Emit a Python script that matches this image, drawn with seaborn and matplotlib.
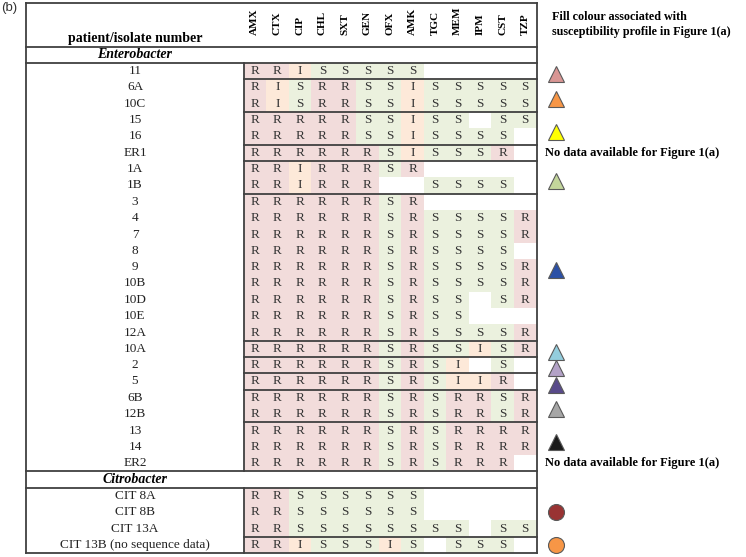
import numpy as np
import pandas as pd
import seaborn as sns
import matplotlib.pyplot as plt
from matplotlib.colors import ListedColormap

# antibiotics (columns)
drugs = ['AMX', 'CTX', 'CIP', 'CHL', 'SXT', 'GEN', 'OFX', 'AMK', 'TGC', 'MEM', 'IPM', 'CST', 'TZP']

# Enterobacter isolates and their profiles ('-' = not tested)
ent_isolates = ['11', '6A', '10C', '15', '16', 'ER1', '1A', '1B', '3', '4', '7', '8', '9',
                '10B', '10D', '10E', '12A', '10A', '2', '5', '6B', '12B', '13', '14', 'ER2']
ent_profiles = ['RRISSSSS-----', 'RISRRSSISSSSS', 'RISRRSSISSSSS', 'RRRRRSSISS-SS',
                'RRRRRSSISSSS-', 'RRRRRRSISSSR-', 'RRIRRRSR-----', 'RRIRRR--SSSS-',
                'RRRRRRSR-----', 'RRRRRRSRSSSSR', 'RRRRRRSRSSSSR', 'RRRRRRSRSSSS-',
                'RRRRRRSRSSSSR', 'RRRRRRSRSSSSR', 'RRRRRRSRSS-SR', 'RRRRRRSRSS---',
                'RRRRRRSRSSSSR', 'RRRRRRSRSSISR', 'RRRRRRSRSI-S-', 'RRRRRRSRSIIR-',
                'RRRRRRSRSRRSR', 'RRRRRRSRSRRSR', 'RRRRRRSRSRRRR', 'RRRRRRSRSRRRR',
                'RRRRRRSRSRRR-']

# Citrobacter isolates
cit_isolates = ['CIT 8A', 'CIT 8B', 'CIT 13A', 'CIT 13B (no sequence data)']
cit_profiles = ['RRSSSSSS-----', 'RRSSSSSS-----', 'RRSSSSSSSS-SS', 'RRISSSIS-SSS-']

# groups end after these isolates (separator lines)
breaks_after = ['11', '10C', '16', 'ER1', '1B', '12A', '10A', '2', '5', '12B', 'CIT 13A']

# legend symbols: isolates covered, marker, fill colour
legend_items = [
    (['11'], '^', '#d99694'),
    (['6A', '10C'], '^', '#f79646'),
    (['15', '16'], '^', '#ffff00'),
    (['1A', '1B'], '^', '#c3d69b'),
    (['3', '4', '7', '8', '9', '10B', '10D', '10E', '12A'], '^', '#2b50a6'),
    (['10A'], '^', '#93cddd'),
    (['2'], '^', '#b3a2c7'),
    (['5'], '^', '#584a8a'),
    (['6B', '12B'], '^', '#a6a6a6'),
    (['13', '14'], '^', '#1a1a1a'),
    (['CIT 8A', 'CIT 8B', 'CIT 13A'], 'o', '#993333'),
    (['CIT 13B (no sequence data)'], 'o', '#f79646'),
]
no_data = ['ER1', 'ER2']

plt.rcParams['font.family'] = ['Liberation Serif', 'DejaVu Serif']

rows = ent_isolates + ['Citrobacter'] + cit_isolates
profiles = ent_profiles + ['-' * len(drugs)] + cit_profiles
code = {'S': 0, 'I': 1, 'R': 2}
values = pd.DataFrame([[code.get(c, np.nan) for c in p] for p in profiles], index=rows, columns=drugs)
letters = pd.DataFrame([['' if c == '-' else c for c in p] for p in profiles], index=rows, columns=drugs)

W, H = 746, 557
fig = plt.figure(figsize=(W / 100, H / 100), dpi=100)
x0, x1, y0, y1 = 243.5, 536.5, 63, 553
ax = fig.add_axes([x0 / W, 1 - y1 / H, (x1 - x0) / W, (y1 - y0) / H])

sns.heatmap(values, ax=ax, cmap=ListedColormap(['#ebf1de', '#fde9d9', '#f2dcdb']),
            vmin=-0.5, vmax=2.5, cbar=False, annot=letters, fmt='',
            annot_kws=dict(fontsize=9.5, color='#333333'),
            xticklabels=False, yticklabels=False)
ax.set_xlabel('')
ax.set_ylabel('')

ncol, nrow = len(drugs), len(rows)
cw = (x1 - x0) / ncol
rh = (y1 - y0) / nrow


def fx(p):
    return (p - x0) / cw


def fy(p):
    return (p - y0) / rh


lk = dict(color='#404040', lw=1.3, clip_on=False, solid_capstyle='projecting')
left, top = fx(26), fy(3)
ent_end = len(ent_isolates)
ax.plot([left, left], [top, nrow], **lk)
ax.plot([ncol, ncol], [top, nrow], **lk)
for y in [top, -1, 0, ent_end, ent_end + 1, nrow]:
    ax.plot([left, ncol], [y, y], **lk)
ax.plot([0, 0], [0, ent_end], **lk)
ax.plot([0, 0], [ent_end + 1, nrow], **lk)
for name in breaks_after:
    i = rows.index(name) + 1
    ax.plot([0, ncol], [i, i], **lk)

# text in label column
lx = fx(135)
ax.text(lx, fy(39), 'patient/isolate number', ha='center', va='center',
        fontsize=10, fontweight='bold', clip_on=False)
ax.text(lx, -0.5, 'Enterobacter', ha='center', va='center', fontsize=10,
        fontweight='bold', style='italic')
ax.text(lx, ent_end + 0.5, 'Citrobacter', ha='center', va='center', fontsize=10,
        fontweight='bold', style='italic')
for i, name in enumerate(rows):
    if name != 'Citrobacter':
        ax.text(lx, i + 0.5, name, ha='center', va='center', fontsize=9.5, color='#222222')

for j, d in enumerate(drugs):
    ax.text(j + 0.5, fy(35.5), d, rotation=90, ha='center', va='bottom',
            fontsize=8, fontweight='bold')

# legend on the right
ax.text(fx(552), fy(17), 'Fill colour associated with', ha='left', va='center',
        fontsize=8.7, fontweight='bold')
ax.text(fx(552), fy(32), 'susceptibility profile in Figure 1(a)', ha='left', va='center',
        fontsize=8.7, fontweight='bold')
for names, m, c in legend_items:
    y = np.mean([rows.index(n) + 0.5 for n in names]) + (0.2 if m == '^' else 0)
    ax.plot([fx(556)], [y], marker=m, ms=11.5, mfc=c, mec='#595959', mew=0.8,
            ls='none', clip_on=False)
for name in no_data:
    ax.text(fx(545), rows.index(name) + 0.5, 'No data available for Figure 1(a)',
            ha='left', va='center', fontsize=9, fontweight='bold')

fig.text(0.001, 1 - 8 / H, '(b)', ha='left', va='center', fontsize=9.5,
         family='Liberation Sans', color='#333333')

fig.savefig('out.png', dpi=100)
